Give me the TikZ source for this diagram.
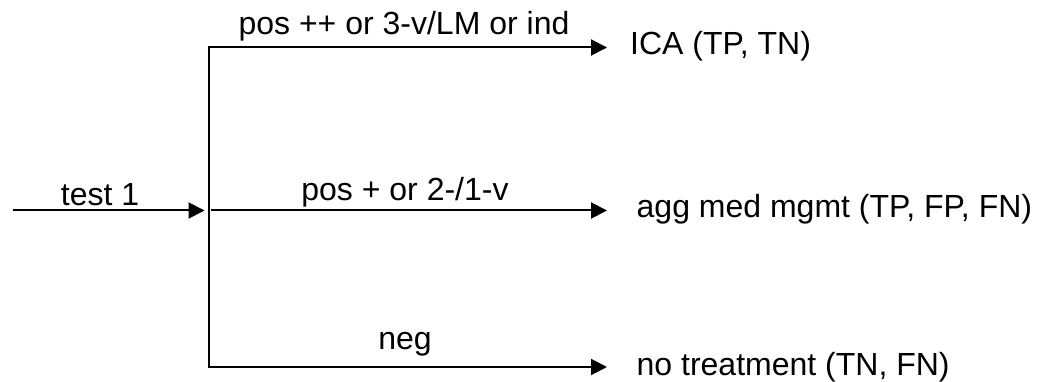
\documentclass[tikz,border=0pt]{standalone}
\usepackage{fontspec}
\setmainfont{Liberation Sans}
\usetikzlibrary{arrows.meta}
\begin{document}
\begin{tikzpicture}[x=1pt,y=-1pt,
  conn/.style={line width=2pt},
  arr/.style={conn,-{Triangle[length=16pt,width=16pt]}},
  lbl/.style={font=\fontsize{32}{38}\selectfont, inner sep=0pt, anchor=base},
  outtxt/.style={font=\fontsize{32}{38}\selectfont, inner sep=0pt, anchor=base west}]
\useasboundingbox (0,0) rectangle (1042,382);
% junction geometry
\coordinate (start) at (12.7,210.5);
\coordinate (split) at (204.5,210.5);
\coordinate (vtop) at (208.5,47.5);
\coordinate (vbot) at (208.5,367);
\coordinate (vmid) at (211,210.5);
\coordinate (t1) at (607,47.5);
\coordinate (t2) at (607,210.5);
\coordinate (t3) at (607,367);
% outcome texts
\node[outtxt] (ica) at (630,55) {ICA (TP, TN)};
\node[outtxt] (agg) at (636.5,217.5) {agg med mgmt (TP, FP, FN)};
\node[outtxt] (none) at (636.5,375) {no treatment (TN, FN)};
% labels
\node[lbl] (ltest) at (100,206) {test 1};
\node[lbl] (l1) at (404,35) {pos ++ or 3-v/LM or ind};
\node[lbl] (l2) at (405,201) {pos + or 2-/1-v};
\node[lbl] (l3) at (405,349.5) {neg};
% connectors
\draw[arr] (start) -- (split);
\draw[conn] (vbot) -- ([yshift=1pt]vtop);
\draw[arr] ([xshift=-1pt]vtop) -- (t1);
\draw[arr] (vmid) -- (t2);
\draw[arr] ([xshift=-1pt]vbot) -- (t3);
\end{tikzpicture}
\end{document}
